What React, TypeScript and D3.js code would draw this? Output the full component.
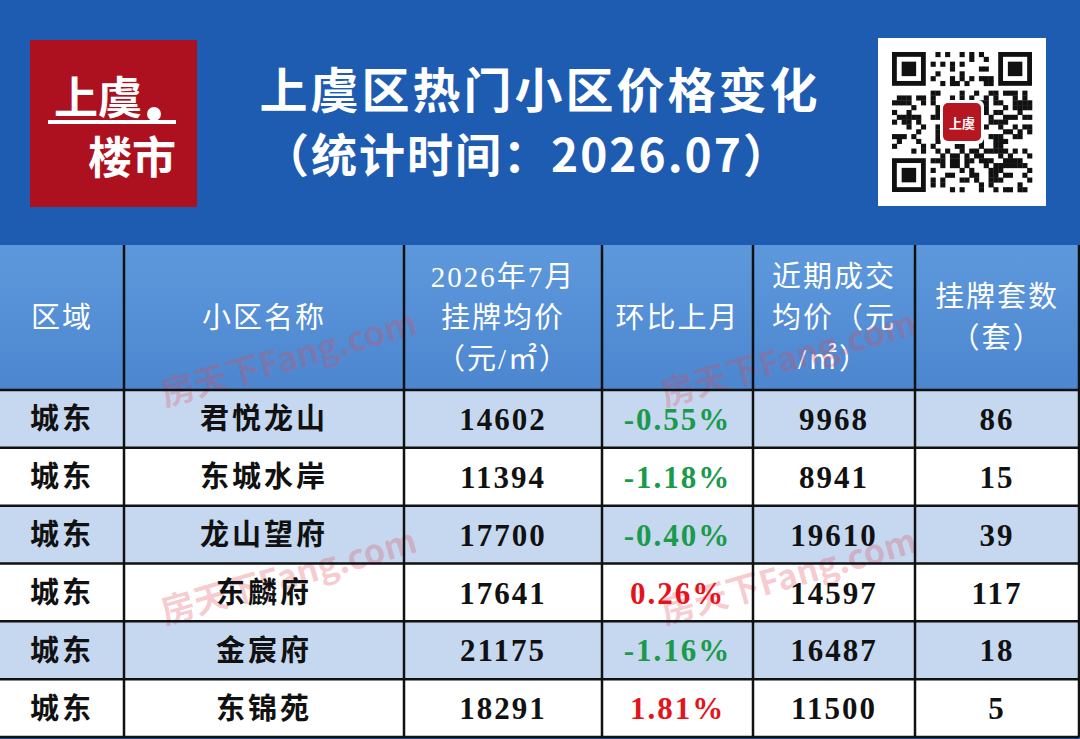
import { useEffect, useRef } from 'react'
import * as d3 from 'd3'

// table data
const districts = ['城东', '城东', '城东', '城东', '城东', '城东']
const communities = ['君悦龙山', '东城水岸', '龙山望府', '东麟府', '金宸府', '东锦苑']
const listPrices = [14602, 11394, 17700, 17641, 21175, 18291]
const momChanges = [-0.55, -1.18, -0.4, 0.26, -1.16, 1.81]
const dealPrices = [9968, 8941, 19610, 14597, 16487, 11500]
const listingCounts = [86, 15, 39, 117, 18, 5]

const headers = [
    ['区域'],
    ['小区名称'],
    ['2026年7月', '挂牌均价', '（元/㎡）'],
    ['环比上月'],
    ['近期成交', '均价（元', '/㎡）'],
    ['挂牌套数', '（套）']
]
const colWidths = [124, 280, 198, 151, 162, 164]

const W = 1080
const H = 739

export default function App() {
    const svgRef = useRef<SVGSVGElement>(null)

    useEffect(() => {
        if (!svgRef.current) return
        const svg = d3.select(svgRef.current)
        svg.selectAll('*').remove()

        const sans = '"Noto Sans CJK SC", "Noto Sans", sans-serif'
        const serif = '"Liberation Serif", "DejaVu Serif", "Noto Sans CJK SC", serif'

        // background
        svg.append('rect').attr('width', W).attr('height', H).attr('fill', '#1d5cb0')

        // logo
        const logo = svg.append('g').attr('transform', 'translate(30,40)')
        logo.append('rect').attr('width', 167).attr('height', 167).attr('fill', '#ad1120')
        logo.append('text').attr('x', 24).attr('y', 74)
            .attr('font-family', sans).attr('font-weight', 700).attr('font-size', 44)
            .attr('fill', '#fff').text('上虞')
        logo.append('line').attr('x1', 18).attr('x2', 146).attr('y1', 82).attr('y2', 82)
            .attr('stroke', '#fff').attr('stroke-width', 4)
        logo.append('circle').attr('cx', 124).attr('cy', 74).attr('r', 7).attr('fill', '#fff')
        logo.append('text').attr('x', 58).attr('y', 134)
            .attr('font-family', sans).attr('font-weight', 700).attr('font-size', 44)
            .attr('fill', '#fff').text('楼市')

        // title
        svg.append('text').attr('x', 540).attr('y', 108).attr('text-anchor', 'middle')
            .attr('font-family', sans).attr('font-weight', 700).attr('font-size', 48)
            .attr('letter-spacing', 3).attr('fill', '#fff').text('上虞区热门小区价格变化')
        svg.append('text').attr('x', 527).attr('y', 172).attr('text-anchor', 'middle')
            .attr('font-family', sans).attr('font-weight', 700).attr('font-size', 46)
            .attr('letter-spacing', 2).attr('fill', '#fff').text('（统计时间：2026.07）')

        // qr code box (decorative)
        const qr = svg.append('g').attr('transform', 'translate(878,38)')
        qr.append('rect').attr('width', 168).attr('height', 168).attr('fill', '#fff')
        const n = 29
        const cell = 140 / n
        const qg = qr.append('g').attr('transform', 'translate(14,14)')
        const finder = (r: number, c: number) =>
            (r < 7 && c < 7) || (r < 7 && c >= n - 7) || (r >= n - 7 && c < 7)
        const mods: [number, number][] = []
        for (let r = 0; r < n; r++) {
            for (let c = 0; c < n; c++) {
                if (finder(r, c)) continue
                if (r === 7 || c === 7 || (r === n - 8 && c < 8) || (c === n - 8 && r < 8)) continue
                const h = ((r * 73856093) ^ (c * 19349663) ^ (r * c * 83492791)) >>> 0
                if (h % 7 < 3) mods.push([r, c])
            }
        }
        qg.selectAll('rect.m').data(mods).enter().append('rect').attr('class', 'm')
            .attr('x', d => d[1] * cell).attr('y', d => d[0] * cell)
            .attr('width', cell + 0.3).attr('height', cell + 0.3).attr('fill', '#111')
        const corners = [[0, 0], [0, n - 7], [n - 7, 0]]
        corners.forEach(([r, c]) => {
            qg.append('rect').attr('x', c * cell + cell / 2).attr('y', r * cell + cell / 2)
                .attr('width', cell * 6).attr('height', cell * 6)
                .attr('fill', 'none').attr('stroke', '#111').attr('stroke-width', cell)
            qg.append('rect').attr('x', (c + 2) * cell).attr('y', (r + 2) * cell)
                .attr('width', cell * 3).attr('height', cell * 3).attr('fill', '#111')
        })
        qr.append('rect').attr('x', 62).attr('y', 62).attr('width', 44).attr('height', 44)
            .attr('rx', 6).attr('fill', '#fff')
        qr.append('rect').attr('x', 65).attr('y', 65).attr('width', 38).attr('height', 38)
            .attr('rx', 5).attr('fill', '#b5161f')
        qr.append('text').attr('x', 84).attr('y', 90).attr('text-anchor', 'middle')
            .attr('font-family', sans).attr('font-weight', 700).attr('font-size', 13)
            .attr('fill', '#fff').text('上虞')

        // table
        const colX = [0, ...d3.cumsum(colWidths)]
        const colCenter = colWidths.map((w, i) => colX[i] + w / 2)
        const headTop = 245
        const headBottom = 390
        const rows = d3.range(communities.length)
        const y = d3.scaleBand<number>().domain(rows).range([headBottom, 737]).padding(0)

        // header cells
        const hdrGrad = svg.append('defs').append('linearGradient')
            .attr('id', 'hdr').attr('x1', 0).attr('x2', 0).attr('y1', 0).attr('y2', 1)
        hdrGrad.append('stop').attr('offset', '0%').attr('stop-color', '#5e98dc')
        hdrGrad.append('stop').attr('offset', '100%').attr('stop-color', '#4c86cf')
        svg.append('rect').attr('x', 0).attr('y', headTop)
            .attr('width', colX[colX.length - 1]).attr('height', headBottom - headTop)
            .attr('fill', 'url(#hdr)')

        headers.forEach((lines, i) => {
            const lh = 41
            const mid = (headTop + headBottom) / 2
            const y0 = mid - ((lines.length - 1) * lh) / 2
            lines.forEach((t, j) => {
                svg.append('text').attr('x', colCenter[i]).attr('y', y0 + j * lh)
                    .attr('dy', '0.36em').attr('text-anchor', 'middle')
                    .attr('font-family', serif).attr('font-size', 29)
                    .attr('letter-spacing', 2).attr('fill', '#fff').text(t)
            })
        })

        // body rows
        svg.selectAll('rect.row').data(rows).enter().append('rect').attr('class', 'row')
            .attr('x', 0).attr('y', d => y(d)!)
            .attr('width', colX[colX.length - 1]).attr('height', y.bandwidth())
            .attr('fill', d => (d % 2 === 0 ? '#c5d8f0' : '#ffffff'))

        // watermarks
        const wm = [[292, 370], [792, 370], [292, 588], [792, 588]]
        wm.forEach(([wx, wy]) => {
            svg.append('text').attr('transform', `translate(${wx},${wy}) rotate(-16)`)
                .attr('text-anchor', 'middle').attr('font-family', sans).attr('font-weight', 700)
                .attr('font-size', 34).attr('fill', '#e04a5a').attr('fill-opacity', 0.28)
                .text('房天下Fang.com')
        })

        const fmtPct = (v: number) => `${v < 0 ? '-' : ''}${Math.abs(v).toFixed(2)}%`
        const cells = rows.map(i => [
            { t: districts[i], c: '#111', f: sans },
            { t: communities[i], c: '#111', f: sans },
            { t: String(listPrices[i]), c: '#111', f: serif },
            { t: fmtPct(momChanges[i]), c: momChanges[i] < 0 ? '#1a9a4a' : '#e3141c', f: serif },
            { t: String(dealPrices[i]), c: '#111', f: serif },
            { t: String(listingCounts[i]), c: '#111', f: serif }
        ])
        cells.forEach((row, i) => {
            row.forEach((cl, j) => {
                svg.append('text').attr('x', j === 0 ? 62 : colCenter[j])
                    .attr('y', y(i)! + y.bandwidth() / 2).attr('dy', '0.36em')
                    .attr('text-anchor', 'middle').attr('font-family', cl.f)
                    .attr('font-weight', 700).attr('font-size', j < 2 ? 29 : 31)
                    .attr('letter-spacing', j < 2 ? 3 : 2).attr('fill', cl.c).text(cl.t)
            })
        })

        // grid lines
        const right = colX[colX.length - 1]
        const grid = svg.append('g').attr('stroke', '#111').attr('stroke-width', 2.5)
        colX.slice(1, -1).forEach(x => {
            grid.append('line').attr('x1', x).attr('x2', x).attr('y1', headTop).attr('y2', 737)
        })
        grid.append('line').attr('x1', right).attr('x2', right).attr('y1', headTop).attr('y2', 737)
        ;[headBottom, ...rows.map(r => y(r)! + y.bandwidth())].forEach(yy => {
            grid.append('line').attr('x1', 0).attr('x2', right).attr('y1', yy).attr('y2', yy)
        })
    }, [])

    return (
        <div style={{ position: 'absolute', left: 0, top: 0 }}>
            <svg ref={svgRef} width={W} height={H} style={{ display: 'block' }}></svg>
        </div>
    )
}
